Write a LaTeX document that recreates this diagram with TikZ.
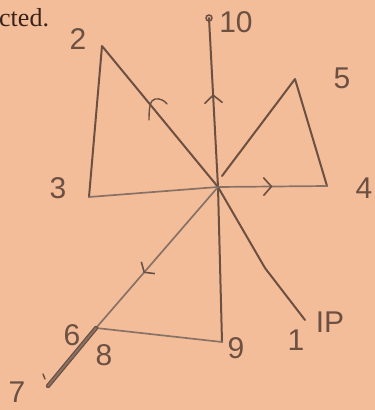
\documentclass[tikz,border=0pt]{standalone}
\usepackage{fontspec}
\setmainfont{Liberation Serif}
\newfontfamily\hand{Liberation Sans}
\usetikzlibrary{arrows.meta,decorations.markings}
\definecolor{paper}{RGB}{243,189,154}
\definecolor{ink}{RGB}{108,80,66}
\definecolor{inklight}{RGB}{136,114,102}
\definecolor{print}{RGB}{58,34,24}
\tikzset{
  stroke/.style={draw=ink, line width=2pt, line join=round, line cap=round},
  faint/.style={draw=inklight, line width=1.7pt, line join=round, line cap=round},
  lbl/.style={text=ink, font=\hand\fontsize{30}{30}\selectfont, inner sep=0pt},
  midarrow/.style 2 args={postaction={decorate, decoration={markings,
     mark=at position #1 with {\arrow[ink, line width=1.6pt]{Straight Barb[length=#2,width=18pt]}}}}},
}
\begin{document}
\begin{tikzpicture}[x=1pt,y=-1pt]
\fill[paper] (0,0) rectangle (375,410);
\useasboundingbox (0,0) rectangle (375,410);
% points
\coordinate (c) at (218,187);
\coordinate (p2) at (102,46);
\coordinate (p3) at (89,197);
\coordinate (p4) at (327,186);
\coordinate (p5) at (295,79);
\coordinate (p5e) at (222,176);
\coordinate (p10) at (209,18);
\coordinate (p1) at (305,320);
\coordinate (p1m) at (265,268);
\coordinate (p9) at (222,342);
\coordinate (p6) at (96,328);
\coordinate (p7) at (48,386);
% printed text
\node[anchor=base west, text=print, font=\fontsize{26}{26}\selectfont, inner sep=0pt] (txt) at (-1,26) {cted.};
% lines
\draw[stroke] (p3) -- (p2) -- (c) -- (p1m) -- (p1);
\draw[stroke] (p5e) -- (p5) -- (p4);
\draw[faint] (p3) -- (c);
\draw[faint, midarrow={0.5}{8pt}] (c) -- (p4);
\draw[stroke, midarrow={0.55}{8pt}] (c) -- (p10);
\draw[stroke] (c) -- (p9);
\draw[faint, midarrow={0.61}{6pt}] (c) -- (p6);
\draw[faint] (p6) -- (p9);
\draw[draw=ink, line width=1.3pt, double=inklight, double distance=1.8pt, line cap=round] (p6) -- (p7);
\draw[stroke, line width=1.6pt] (p10) circle (3);
% tick on line 2
\draw[stroke, line width=1.4pt] (149,120) .. controls (149,108) and (150,100) .. (155,99) .. controls (160,98) and (165,101) .. (167,104);
\draw[stroke, line width=1.4pt] (43,374) -- (45,379);
% labels
\node[lbl] (l2) at (78,39) {2};
\node[lbl] (l10) at (236,22) {10};
\node[lbl] (l5) at (342,78) {5};
\node[lbl] (l3) at (58,188) {3};
\node[lbl] (l4) at (364,188) {4};
\node[lbl] (l1) at (296,340) {1};
\node[lbl] (lIP) at (330,322) {IP};
\node[lbl] (l9) at (236,348) {9};
\node[lbl] (l6) at (72,335) {6};
\node[lbl] (l8) at (104,355) {8};
\node[lbl] (l7) at (17,392) {7};
\end{tikzpicture}
\end{document}
